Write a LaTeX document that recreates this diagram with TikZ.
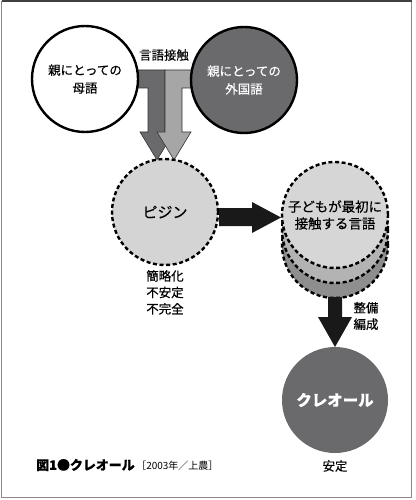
\documentclass[tikz,border=0pt]{standalone}
\usepackage{fontspec}
\setmainfont{Noto Sans CJK JP}[FakeBold=0.4]
\newfontfamily\plainfont{Noto Sans CJK JP}
\usetikzlibrary{positioning}
\definecolor{darkg}{HTML}{6A6A6D}
\definecolor{lightg}{HTML}{A6A6A6}
\definecolor{pidg}{HTML}{D4D4D4}
\definecolor{stackA}{HTML}{D6D6D6}
\definecolor{stackB}{HTML}{B3B3B3}
\definecolor{stackC}{HTML}{8E8E8E}
\definecolor{frameg}{HTML}{8A8A8A}
\tikzset{
  bubble/.style={circle, minimum size=106bp, inner sep=0pt, line width=2.4bp, align=center, font=\fontsize{12.5}{18}\selectfont},
  dashbubble/.style={bubble, dash pattern=on 4bp off 2.6bp},
  fatarrow/.style={draw=black!80, line width=0.6bp, line join=miter},
  blackarrow/.style={fill=black!90, draw=none},
  lbl/.style={align=center, font=\fontsize{12.5}{16.5}\selectfont, inner sep=0pt}
}
\begin{document}
\begin{tikzpicture}[x=1bp,y=-1bp]
\useasboundingbox (0,0) rectangle (415,500);
\fill[white] (0,0) rectangle (415,500);
\draw[frameg, line width=1.5bp] (1.5,1.5) rectangle (411.5,497.5);
\draw[black!75, line width=1.5bp] (1.5,1.2) -- (411.5,1.2);

% contact arrows
\path[fatarrow, fill=darkg] (128,70) -- (165,70) -- (165,132) -- (174,132) -- (157,160) -- (140,132) -- (148,132) -- (148,88) -- (128,88) -- cycle;
\path[fatarrow, fill=lightg] (165,70) -- (200,70) -- (200,88) -- (182,88) -- (182,132) -- (191,132) -- (174,160) -- (157,132) -- (165,132) -- cycle;

\node[bubble, draw=black, fill=white] (mother) at (85,79) {親にとっての\\母語};
\node[bubble, draw=black, fill=darkg, text=white] (foreign) at (244,80) {親にとっての\\外国語};
\node[lbl] (contact) at (164,55) {言語接触};

\node[dashbubble, draw=black, fill=pidg, font=\fontsize{15}{18}\selectfont] (pidgin) at (165,212) {ピジン};
\node[lbl, anchor=north] (pidlbl) at (165,270) {簡略化\\不安定\\不完全};

% stack
\node[dashbubble, draw=black, fill=stackC] (stack3) at (335,245) {};
\node[dashbubble, draw=black, fill=stackB] (stack2) at (335,230) {};
\node[dashbubble, draw=black, fill=stackA, font=\fontsize{13.5}{17}\selectfont] (child) at (335,215) {子どもが最初に\\接触する言語};

% right arrow
\path[blackarrow] (219,208) -- (252,208) -- (252,202) -- (281,217.5) -- (252,233) -- (252,226) -- (219,226) -- cycle;

% down arrow
\path[blackarrow] (328,297) -- (342,297) -- (342,317) -- (352,317) -- (335,347) -- (318,317) -- (328,317) -- cycle;
\node[lbl] (seibi) at (366,316) {整備\\編成};

\node[bubble, draw=none, fill=darkg, text=white, font=\fontsize{15.5}{18}\selectfont\bfseries] (creole) at (335,400) {クレオール};
\node[lbl] (stable) at (335,466) {安定};

\node[anchor=west, inner sep=0pt] (caption) at (36,465) {{\fontsize{13}{15}\selectfont\bfseries 図1●クレオール}\,{\plainfont\fontsize{10}{12}\selectfont［2003年／上農］}};
\end{tikzpicture}
\end{document}
